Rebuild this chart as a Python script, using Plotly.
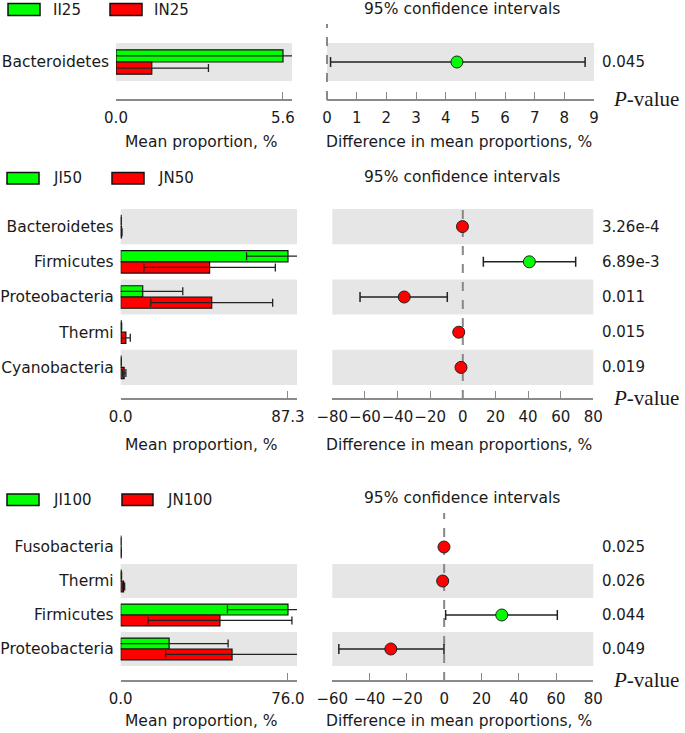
import plotly.graph_objects as go

# ---------------- data ----------------
p1_groups = ['II25', 'IN25']
p1_taxa = ['Bacteroidetes']
p1_g_mean = [5.6]
p1_g_sd = [6.0]
p1_r_mean = [1.2]
p1_r_sd = [1.9]
p1_diff = [4.38]
p1_ci_low = [0.12]
p1_ci_high = [8.70]
p1_pvalues = ['0.045']
p1_bar_max = 5.6
p1_ci_range = [0, 9]
p1_ci_dtick = 1

p2_groups = ['JI50', 'JN50']
p2_taxa = ['Bacteroidetes', 'Firmicutes', 'Proteobacteria', 'Thermi', 'Cyanobacteria']
p2_g_mean = [0.2, 87.3, 11.5, 0.3, 0.2]
p2_g_sd = [0.1, 21.6, 20.9, 0.2, 0.1]
p2_r_mean = [0.4, 46.4, 47.5, 2.7, 1.8]
p2_r_sd = [0.3, 34.3, 31.8, 2.3, 0.9]
p2_diff = [-0.2, 40.8, -35.9, -2.5, -1.1]
p2_ci_low = [-0.4, 12.6, -63.0, -3.5, -1.6]
p2_ci_high = [0.0, 69.2, -9.5, -1.5, -0.6]
p2_pvalues = ['3.26e-4', '6.89e-3', '0.011', '0.015', '0.019']
p2_bar_max = 87.3
p2_ci_range = [-80, 80]
p2_ci_dtick = 20

p3_groups = ['JI100', 'JN100']
p3_taxa = ['Fusobacteria', 'Thermi', 'Firmicutes', 'Proteobacteria']
p3_g_mean = [0.1, 0.2, 76.0, 22.0]
p3_g_sd = [0.05, 0.2, 27.5, 26.8]
p3_r_mean = [0.2, 1.3, 45.1, 50.6]
p3_r_sd = [0.1, 0.5, 32.7, 30.2]
p3_diff = [-0.1, -0.8, 30.9, -28.6]
p3_ci_low = [-0.3, -1.2, 0.8, -56.5]
p3_ci_high = [0.1, -0.4, 60.7, -0.1]
p3_pvalues = ['0.025', '0.026', '0.044', '0.049']
p3_bar_max = 76.0
p3_ci_range = [-60, 80]
p3_ci_dtick = 20

panels = [
    dict(groups=p1_groups, taxa=p1_taxa, gm=p1_g_mean, gs=p1_g_sd, rm=p1_r_mean, rs=p1_r_sd,
         diff=p1_diff, lo=p1_ci_low, hi=p1_ci_high, pv=p1_pvalues, bmax=p1_bar_max,
         cir=p1_ci_range, cid=p1_ci_dtick),
    dict(groups=p2_groups, taxa=p2_taxa, gm=p2_g_mean, gs=p2_g_sd, rm=p2_r_mean, rs=p2_r_sd,
         diff=p2_diff, lo=p2_ci_low, hi=p2_ci_high, pv=p2_pvalues, bmax=p2_bar_max,
         cir=p2_ci_range, cid=p2_ci_dtick),
    dict(groups=p3_groups, taxa=p3_taxa, gm=p3_g_mean, gs=p3_g_sd, rm=p3_r_mean, rs=p3_r_sd,
         diff=p3_diff, lo=p3_ci_low, hi=p3_ci_high, pv=p3_pvalues, bmax=p3_bar_max,
         cir=p3_ci_range, cid=p3_ci_dtick),
]

# ---------------- layout geometry (pixels) ----------------
W, H = 685, 733
def X(px): return px / W
def Y(py): return 1 - py / H

geom = [
    dict(rows=(43, 81), axis=100, bar=(116, 292), ci=(327, 594), zero_top=24,
         leg_y=(3.5, 15.5), leg=[(8, 40, 51), (110, 142, 152)], title_y=9, xt_y=142),
    dict(rows=(209, 385), axis=399, bar=(120.7, 297), ci=(332.3, 593.3), zero_top=203,
         leg_y=(172.5, 184), leg=[(7, 39, 51), (112, 144, 156)], title_y=177, xt_y=445),
    dict(rows=(530, 666), axis=681, bar=(120.7, 297), ci=(332.3, 593.3), zero_top=513,
         leg_y=(494, 505.5), leg=[(7, 39, 51), (122, 153, 165)], title_y=498, xt_y=721),
]

FONT = 'DejaVu Sans'
GREEN = '#00ff00'
RED = '#ff0000'
BAND = '#e6e6e6'
AXIS = '#8a8a8a'
TXT = '#1a1a1a'
FS = 15.5

fig = go.Figure()
layout = dict(width=W, height=H, autosize=False, margin=dict(l=0, r=0, t=0, b=0, pad=0),
              paper_bgcolor='white', plot_bgcolor='rgba(0,0,0,0)',
              barmode='group', bargap=0.36, bargroupgap=0,
              font=dict(family=FONT, size=FS, color=TXT), showlegend=False)
shapes = []
annotations = []

for k, (p, g) in enumerate(zip(panels, geom)):
    bi, ci = 2 * k + 1, 2 * k + 2
    bx = 'x' if bi == 1 else f'x{bi}'
    by = 'y' if bi == 1 else f'y{bi}'
    cx, cy = f'x{ci}', f'y{ci}'
    n = len(p['taxa'])
    ydom = [Y(g['rows'][1]), Y(g['rows'][0])]
    bar_range = [0, p['bmax'] * 1.054]

    # bars
    for means, sds, col, name in [(p['gm'], p['gs'], GREEN, p['groups'][0]),
                                  (p['rm'], p['rs'], RED, p['groups'][1])]:
        fig.add_trace(go.Bar(
            x=means, y=p['taxa'], orientation='h', name=name,
            marker=dict(color=col, line=dict(color='#111', width=1.2)),
            error_x=dict(type='data', array=sds, symmetric=True, color='#222',
                         thickness=1.3, width=4),
            xaxis=bx, yaxis=by, hoverinfo='x+y'))

    # confidence intervals
    cols = [GREEN if d > 0 else RED for d in p['diff']]
    fig.add_trace(go.Scatter(
        x=p['diff'], y=p['taxa'], mode='markers',
        marker=dict(size=12, color=cols, line=dict(color='#222', width=1)),
        error_x=dict(type='data', symmetric=False,
                     array=[h - d for h, d in zip(p['hi'], p['diff'])],
                     arrayminus=[d - l for d, l in zip(p['diff'], p['lo'])],
                     color='#222', thickness=1.5, width=5),
        xaxis=cx, yaxis=cy))

    axis_pos = Y(g['axis'])
    common_x = dict(anchor='free', position=axis_pos, ticks='inside', ticklen=7,
                    tickcolor=AXIS, tickwidth=1.3, showline=True, linecolor=AXIS,
                    linewidth=1.5, showgrid=False, zeroline=False, ticklabelstandoff=4,
                    tickangle=0, automargin=False,
                    tickfont=dict(size=15, color=TXT, family=FONT))
    layout['xaxis' if bi == 1 else f'xaxis{bi}'] = dict(
        domain=[X(g['bar'][0]), X(g['bar'][1])], range=bar_range,
        tickvals=[0, p['bmax']], ticktext=['0.0', f"{p['bmax']:.1f}"], **common_x)
    layout['yaxis' if bi == 1 else f'yaxis{bi}'] = dict(
        domain=ydom, anchor=bx, type='category', categoryorder='array',
        categoryarray=p['taxa'], range=[n - 0.5, -0.5], showgrid=False, zeroline=False,
        showline=False, ticks='', ticklabelstandoff=6, automargin=False,
        tickfont=dict(size=FS, color=TXT, family=FONT))
    layout[f'xaxis{ci}'] = dict(
        domain=[X(g['ci'][0]), X(g['ci'][1])], range=p['cir'],
        dtick=p['cid'], tick0=p['cir'][0], **common_x)
    layout[f'yaxis{ci}'] = dict(
        domain=ydom, anchor=cx, type='category', categoryorder='array',
        categoryarray=p['taxa'], range=[n - 0.5, -0.5], showgrid=False, zeroline=False,
        showline=False, showticklabels=False, ticks='', automargin=False)

    # alternating grey bands (bottom row shaded)
    for i in range(n):
        if (n - 1 - i) % 2 == 0:
            for xr, yr in [(bx, by), (cx, cy)]:
                shapes.append(dict(type='rect', xref=f'{xr} domain', yref=yr, x0=0, x1=1,
                                   y0=i - 0.5, y1=i + 0.5, fillcolor=BAND, line_width=0,
                                   layer='below'))
    # dashed zero line
    zf = (0 - p['cir'][0]) / (p['cir'][1] - p['cir'][0])
    shapes.append(dict(type='line', xref=f'{cx} domain', yref='paper', x0=zf, x1=zf,
                       y0=axis_pos, y1=Y(g['zero_top']),
                       line=dict(color='#888', width=2, dash='dash'), layer='below'))

    # legend
    for (x0, x1, tx), col, name in zip(g['leg'], [GREEN, RED], p['groups']):
        shapes.append(dict(type='rect', xref='paper', yref='paper', x0=X(x0), x1=X(x1),
                           y0=Y(g['leg_y'][1]), y1=Y(g['leg_y'][0]), fillcolor=col,
                           line=dict(color='#111', width=1.5)))
        annotations.append(dict(xref='paper', yref='paper', x=X(tx),
                                y=Y((g['leg_y'][0] + g['leg_y'][1]) / 2), text=name,
                                showarrow=False, xanchor='left', yanchor='middle',
                                font=dict(size=15, color=TXT)))
    # titles
    annotations.append(dict(xref='paper', yref='paper', x=X(462), y=Y(g['title_y']),
                            text='95% confidence intervals', showarrow=False,
                            xanchor='center', yanchor='middle', font=dict(size=FS, color=TXT)))
    annotations.append(dict(xref='paper', yref='paper', x=X(201), y=Y(g['xt_y']),
                            text='Mean proportion, %', showarrow=False,
                            xanchor='center', yanchor='middle', font=dict(size=FS, color=TXT)))
    annotations.append(dict(xref='paper', yref='paper', x=X(459), y=Y(g['xt_y']),
                            text='Difference in mean proportions, %', showarrow=False,
                            xanchor='center', yanchor='middle', font=dict(size=FS, color=TXT)))
    annotations.append(dict(xref='paper', yref='paper', x=X(611), y=Y(g['axis'] - 1),
                            text='<i>P</i>-value', showarrow=False, xanchor='left',
                            yanchor='middle',
                            font=dict(size=21, color=TXT, family='Liberation Serif')))
    # p-values
    for t, pv in zip(p['taxa'], p['pv']):
        annotations.append(dict(xref='paper', yref=cy, x=X(600), y=t, text=pv,
                                showarrow=False, xanchor='left', yanchor='middle',
                                font=dict(size=15, color=TXT)))

layout['shapes'] = shapes
layout['annotations'] = annotations
fig.update_layout(**layout)
fig.write_html('out.html', config={'displayModeBar': False},
               post_script="document.body.style.margin='0';document.body.style.overflow='hidden';")
